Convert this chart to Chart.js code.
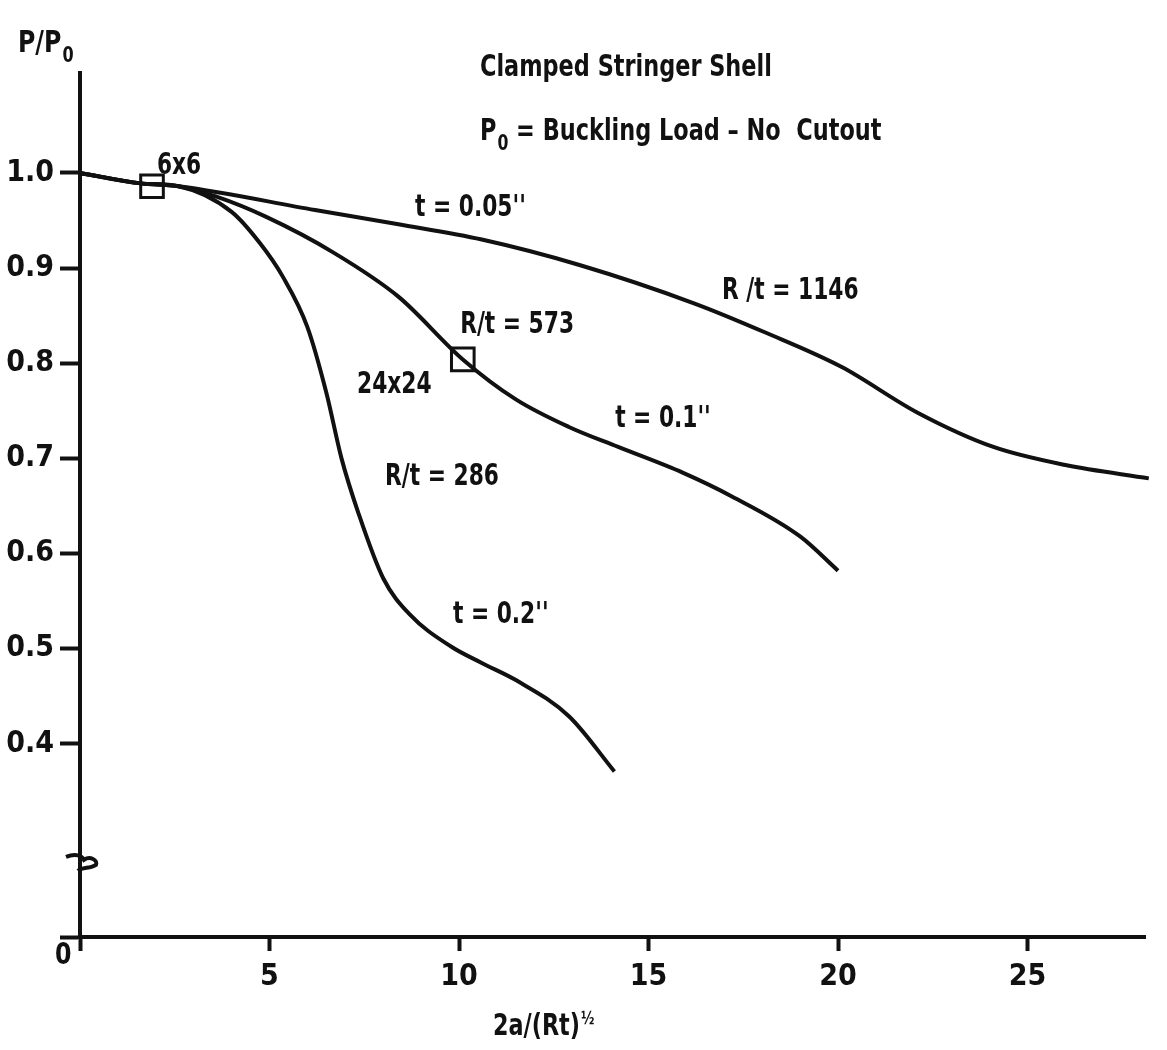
<!DOCTYPE html>
<html>
<head>
<meta charset="utf-8">
<script src="https://cdn.jsdelivr.net/npm/chart.js@4"></script>
<style>
  html, body { margin: 0; padding: 0; background: #fff; }
  #graph { display: block; }
</style>
</head>
<body>
<canvas id="graph" width="1167" height="1050"></canvas>
<script>
// values: x = 2a/(Rt)^1/2, y = P/P0

// t = 0.05", R/t = 1146
const xThin = [0, 1.6, 2.6, 6.2, 8.4, 10.6, 13.2, 16.2, 18.1, 20.1, 22.1, 24.1, 26.0, 28.2];
const yThin = [1.0, 0.989, 0.986, 0.961, 0.946, 0.930, 0.903, 0.863, 0.832, 0.796, 0.748, 0.712, 0.693, 0.679];

// t = 0.1", R/t = 573
const xMid = [0, 1.6, 2.6, 3.6, 4.9, 6.7, 8.4, 10.1, 11.5, 12.9, 14.2, 15.9, 17.2, 19.0, 20.0];
const yMid = [1.0, 0.989, 0.986, 0.975, 0.954, 0.916, 0.870, 0.804, 0.762, 0.733, 0.712, 0.685, 0.660, 0.618, 0.582];

// t = 0.2", R/t = 286
const xThick = [0, 1.6, 2.6, 4.0, 4.75, 5.35, 6.0, 6.5, 6.9, 7.35, 8.0, 8.7, 9.8, 10.6, 11.5, 12.9, 14.1];
const yThick = [1.0, 0.989, 0.986, 0.959, 0.926, 0.891, 0.838, 0.769, 0.700, 0.642, 0.574, 0.536, 0.502, 0.485, 0.467, 0.429, 0.371];

// cutout size markers (6x6 and 24x24)
const xBox = [1.9, 10.1];
const yBox = [0.986, 0.804];

const xTicks = [5, 10, 15, 20, 25];
const yTicks = [0.4, 0.5, 0.6, 0.7, 0.8, 0.9, 1.0];

// the y axis is broken below 0.4: its bottom end stands for 0
const Y_ZERO = 0.197;
const Y_TOP = 1.105;
const Y_BREAK = 0.276;

// text labels inside the plot, placed in data units
const notes = [
  {text: '6x6', x: 2.03, y: 1.007},
  {text: "t = 0.05''", x: 8.84, y: 0.963},
  {text: 'R /t = 1146', x: 16.94, y: 0.876},
  {text: 'R/t = 573', x: 10.03, y: 0.840},
  {text: '24x24', x: 7.31, y: 0.777},
  {text: "t = 0.1''", x: 14.12, y: 0.741},
  {text: 'R/t = 286', x: 8.05, y: 0.680},
  {text: "t = 0.2''", x: 9.84, y: 0.535},
];

const FONT = "'DejaVu Sans Condensed', 'Liberation Sans Narrow', sans-serif";
const INK = '#111';
const SQUEEZE = 0.78;   // the scanned lettering is narrower than any installed font

function pts(xs, ys) {
  return xs.map((x, i) => ({x: x, y: ys[i]}));
}

function curve(xs, ys) {
  return {
    type: 'line',
    data: pts(xs, ys),
    borderColor: INK,
    borderWidth: 4,
    pointRadius: 0,
    fill: false,
    cubicInterpolationMode: 'monotone',
    clip: false
  };
}

// squeezed bold text, returns the drawn width
function say(ctx, str, x, y, size, sq) {
  ctx.save();
  ctx.font = 'bold ' + size + 'px ' + FONT;
  ctx.translate(x, y);
  ctx.scale(sq, 1);
  ctx.fillText(str, 0, 0);
  const w = ctx.measureText(str).width * sq;
  ctx.restore();
  return w;
}

// draws the notes, headings, axis titles and the axis break
const textPlugin = {
  id: 'texts',
  afterDraw(chart) {
    const ctx = chart.ctx;
    const xs = chart.scales.x, ys = chart.scales.y;
    const a = chart.chartArea;
    ctx.save();
    ctx.fillStyle = INK;
    ctx.textBaseline = 'middle';
    ctx.textAlign = 'left';
    notes.forEach(n => {
      say(ctx, n.text, xs.getPixelForValue(n.x), ys.getPixelForValue(n.y), 31, SQUEEZE);
    });

    // headings
    say(ctx, 'Clamped Stringer Shell', 480, 68, 30, 0.83);
    let x = 480;
    x += say(ctx, 'P', x, 132, 30, 0.83);
    x += say(ctx, '0', x + 1, 145, 21, 0.83) + 1;
    say(ctx, ' = Buckling Load \u2013 No  Cutout', x, 132, 30, 0.83);

    // y axis title
    x = 18;
    x += say(ctx, 'P/P', x, 44, 31, 0.85);
    say(ctx, '0', x + 1, 57, 21, 0.85);

    // x axis title
    x = 493;
    x += say(ctx, '2a/(Rt)', x, a.bottom + 90, 31, 0.8);
    say(ctx, '\u00bd', x + 1, a.bottom + 82, 18, 0.8);

    // origin label
    say(ctx, '0', a.left - 25, a.bottom + 19, 31, 0.85);

    // axis break mark
    const yb = ys.getPixelForValue(Y_BREAK);
    const x0 = a.left;
    ctx.strokeStyle = INK;
    ctx.lineWidth = 4;
    ctx.beginPath();
    ctx.moveTo(x0 - 14, yb - 5);
    ctx.bezierCurveTo(x0 - 4, yb - 9, x0 + 2, yb - 6, x0 + 4, yb - 2);
    ctx.bezierCurveTo(x0 + 10, yb - 6, x0 + 18, yb - 2, x0 + 16, yb + 3);
    ctx.bezierCurveTo(x0 + 10, yb + 7, x0 + 2, yb + 5, x0 - 2, yb + 9);
    ctx.stroke();
    ctx.restore();
  }
};

const tickFont = {family: FONT, size: 30, weight: 'bold'};

const cfg = {
  data: {
    datasets: [
      curve(xThin, yThin),
      curve(xMid, yMid),
      curve(xThick, yThick),
      {
        type: 'scatter',
        data: pts(xBox, yBox),
        pointStyle: 'rect',
        pointRadius: 16,
        pointBorderWidth: 3,
        pointBackgroundColor: 'rgba(0,0,0,0)',
        pointBorderColor: INK,
        clip: false
      }
    ]
  },
  options: {
    responsive: false,
    animation: false,
    layout: {padding: {top: 73, right: 22, left: 0, bottom: 0}},
    plugins: {legend: {display: false}, tooltip: {enabled: false}},
    scales: {
      x: {
        type: 'linear',
        min: 0,
        max: 28.1,
        afterFit: s => { s.height = 113; },
        afterBuildTicks: s => { s.ticks = [0].concat(xTicks).map(v => ({value: v})); },
        ticks: {
          callback: v => (v === 0 ? '' : String(v)),
          font: tickFont,
          color: INK,
          padding: 8,
          maxRotation: 0,
          autoSkip: false
        },
        grid: {drawOnChartArea: false, drawTicks: true, tickLength: 14, tickWidth: 4, tickColor: INK},
        border: {display: true, color: INK, width: 4}
      },
      y: {
        type: 'linear',
        min: Y_ZERO,
        max: Y_TOP,
        afterFit: s => { s.width = 80; },
        afterBuildTicks: s => { s.ticks = [Y_ZERO].concat(yTicks).map(v => ({value: v})); },
        ticks: {
          callback: v => (v < 0.3 ? '' : v.toFixed(1)),
          font: tickFont,
          color: INK,
          padding: 6,
          autoSkip: false
        },
        grid: {drawOnChartArea: false, drawTicks: true, tickLength: 20, tickWidth: 4, tickColor: INK},
        border: {display: true, color: INK, width: 4}
      }
    }
  },
  plugins: [textPlugin]
};

new Chart(document.getElementById('graph'), cfg);
</script>
</body>
</html>
